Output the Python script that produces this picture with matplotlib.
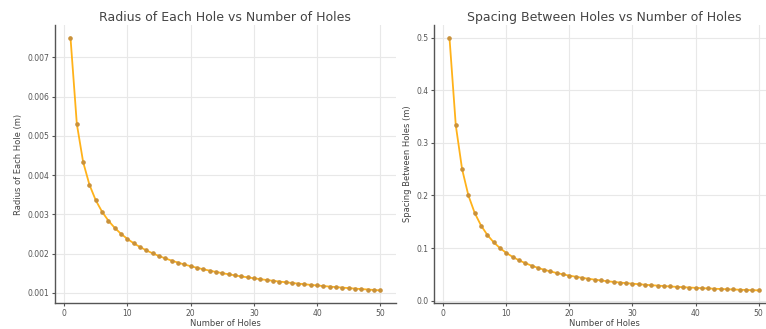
import matplotlib
matplotlib.use("Agg")
import matplotlib.pyplot as plt

# number of holes
num_holes = list(range(1, 51))

# radius of each hole (m)
radius = [
    0.007500, 0.005303, 0.004330, 0.003750, 0.003354, 0.003062, 0.002835, 0.002652, 0.002500, 0.002372,
    0.002261, 0.002165, 0.002080, 0.002004, 0.001936, 0.001875, 0.001819, 0.001768, 0.001721, 0.001677,
    0.001637, 0.001599, 0.001564, 0.001531, 0.001500, 0.001471, 0.001443, 0.001417, 0.001393, 0.001369,
    0.001347, 0.001326, 0.001306, 0.001286, 0.001268, 0.001250, 0.001233, 0.001217, 0.001201, 0.001186,
    0.001171, 0.001157, 0.001144, 0.001131, 0.001118, 0.001106, 0.001094, 0.001083, 0.001071, 0.001061,
]

# spacing between holes (m)
spacing = [
    0.5000, 0.3333, 0.2500, 0.2000, 0.1667, 0.1429, 0.1250, 0.1111, 0.1000, 0.0909,
    0.0833, 0.0769, 0.0714, 0.0667, 0.0625, 0.0588, 0.0556, 0.0526, 0.0500, 0.0476,
    0.0455, 0.0435, 0.0417, 0.0400, 0.0385, 0.0370, 0.0357, 0.0345, 0.0333, 0.0323,
    0.0313, 0.0303, 0.0294, 0.0286, 0.0278, 0.0270, 0.0263, 0.0256, 0.0250, 0.0244,
    0.0238, 0.0233, 0.0227, 0.0222, 0.0217, 0.0213, 0.0208, 0.0204, 0.0200, 0.0196,
]

LINE = "#FFB21A"
EDGE = "#C9913A"

fig = plt.figure(figsize=(7.66, 3.29), dpi=100)
ax1 = fig.add_axes([0.0718, 0.079, 0.445, 0.845])
ax2 = fig.add_axes([0.5666, 0.079, 0.444, 0.845])


def style(ax, title, ylabel):
    ax.set_title(title, fontsize=9, color="#444444", pad=3)
    ax.set_xlabel("Number of Holes", fontsize=6, color="#444444", labelpad=1)
    ax.set_ylabel(ylabel, fontsize=6, color="#444444", labelpad=3)
    ax.grid(True, color="#e8e8e8", linewidth=0.8)
    ax.set_axisbelow(True)
    for side in ("top", "right"):
        ax.spines[side].set_visible(False)
    for side in ("left", "bottom"):
        ax.spines[side].set_color("#555555")
        ax.spines[side].set_linewidth(1.0)
    ax.tick_params(labelsize=5.5, colors="#555555", length=2.5, width=0.8, pad=1.5)


ax1.plot(num_holes, radius, color=LINE, linewidth=1.3, marker="o",
         markersize=2.3, markerfacecolor=EDGE, markeredgecolor=EDGE)
style(ax1, "Radius of Each Hole vs Number of Holes", "Radius of Each Hole (m)")

ax2.plot(num_holes, spacing, color=LINE, linewidth=1.3, marker="o",
         markersize=2.3, markerfacecolor=EDGE, markeredgecolor=EDGE)
style(ax2, "Spacing Between Holes vs Number of Holes", "Spacing Between Holes (m)")

fig.savefig("out.png", dpi=100)
